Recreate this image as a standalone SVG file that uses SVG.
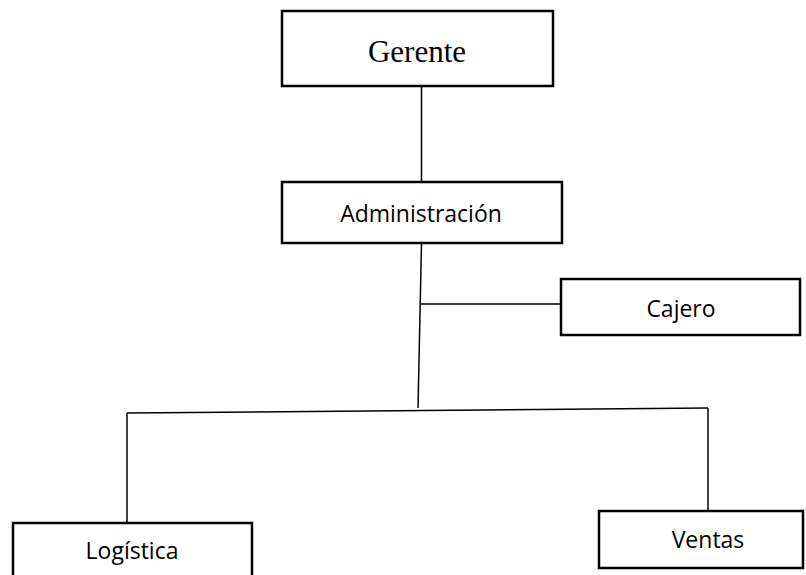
<svg xmlns="http://www.w3.org/2000/svg" width="806" height="575" viewBox="0 0 806 575">
<style>
.box{fill:#fff;stroke:#000;stroke-width:2.5}
.ln{fill:none;stroke:#000;stroke-width:1.5}
.t{font-family:"Open Sans","Liberation Sans",sans-serif;font-size:23px;fill:#000;text-anchor:middle}
.ts{font-family:"Liberation Serif","Times New Roman",serif;font-size:31px;fill:#000;text-anchor:middle}
</style>
<rect width="806" height="575" fill="#fff"/>
<g id="connectors">
<line class="ln" x1="421.5" y1="86" x2="421.5" y2="182"/>
<line class="ln" x1="421.5" y1="243" x2="418" y2="408"/>
<line class="ln" x1="421" y1="304" x2="561" y2="304"/>
<line class="ln" x1="127" y1="413" x2="708" y2="408"/>
<line class="ln" x1="127" y1="413" x2="127" y2="523"/>
<line class="ln" x1="708" y1="408" x2="708" y2="511"/>
</g>
<g id="gerente">
<rect class="box" x="282" y="11" width="271" height="75"/>
<text class="ts" x="417" y="62">Gerente</text>
</g>
<g id="administracion">
<rect class="box" x="282" y="182" width="280" height="61"/>
<text class="t" x="421" y="222">Administración</text>
</g>
<g id="cajero">
<rect class="box" x="561" y="279" width="239" height="56"/>
<text class="t" x="681" y="317">Cajero</text>
</g>
<g id="logistica">
<rect class="box" x="13" y="523" width="239" height="70"/>
<text class="t" x="132" y="559">Logística</text>
</g>
<g id="ventas">
<rect class="box" x="599" y="511" width="204" height="57"/>
<text class="t" x="708" y="548">Ventas</text>
</g>
</svg>
